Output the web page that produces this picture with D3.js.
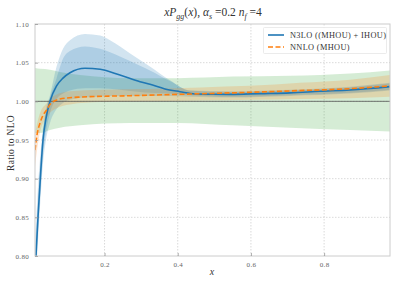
<!DOCTYPE html>
<html><head><meta charset="utf-8">
<script src="https://cdn.jsdelivr.net/npm/d3@7"></script>
<style>body{margin:0;background:#fff}svg{display:block}text{font-family:"Liberation Serif","DejaVu Serif",serif}</style>
</head><body><div id="chart"></div>
<script>
const xTicks = [0.2, 0.4, 0.6, 0.8];
const yTicks = [0.80, 0.85, 0.90, 0.95, 1.00, 1.05, 1.10];
const seriesNames = ["N3LO ((MHOU) + IHOU)", "NNLO (MHOU)"];

const n3loX = [0.01,0.0127,0.0182,0.0245,0.0319,0.040,0.051,0.069,0.0865,0.1056,0.1466,0.188,0.242,0.297,0.324,0.365,0.406,0.447,0.543,0.625,0.707,0.789,0.871,0.98];
const n3loY = [0.775,0.80,0.85,0.90,0.95,0.978,1.000,1.020,1.030,1.037,1.0427,1.0414,1.034,1.0254,1.022,1.016,1.0125,1.0095,1.009,1.010,1.011,1.013,1.0147,1.019];

const nnloX = [0.01,0.0146,0.0237,0.032,0.0419,0.051,0.078,0.133,0.270,0.4,0.55,0.707,0.871,0.98];
const nnloY = [0.937,0.954,0.972,0.982,0.989,0.996,1.003,1.0055,1.0073,1.009,1.011,1.0135,1.0164,1.020];

const outerX  = [0.01,0.0127,0.0182,0.0245,0.0319,0.040,0.051,0.069,0.0865,0.1056,0.1466,0.188,0.215,0.27,0.324,0.38,0.433,0.543,0.707,0.871,0.98];
const outerLo = [0.74,0.77,0.82,0.87,0.92,0.950,0.972,0.990,0.998,1.002,1.005,1.006,1.007,1.007,1.007,1.007,1.006,1.005,1.007,1.010,1.014];
const outerHi = [0.82,0.84,0.89,0.93,0.965,0.99,1.008,1.045,1.068,1.079,1.087,1.085,1.079,1.062,1.045,1.027,1.014,1.013,1.015,1.019,1.024];

const innerX  = [0.01,0.0127,0.0182,0.0245,0.0319,0.040,0.051,0.069,0.0865,0.1056,0.1466,0.188,0.242,0.297,0.324,0.38,0.433,0.543,0.707,0.871,0.98];
const innerLo = [0.755,0.785,0.835,0.88,0.93,0.96,0.985,1.003,1.010,1.014,1.017,1.017,1.015,1.012,1.011,1.010,1.008,1.006,1.008,1.011,1.015];
const innerHi = [0.80,0.82,0.87,0.92,0.96,0.985,1.005,1.03,1.055,1.065,1.071,1.068,1.058,1.046,1.040,1.026,1.014,1.012,1.014,1.018,1.023];

const orangeBandX  = [0.01,0.0237,0.0428,0.0647,0.1056,0.188,0.324,0.461,0.597,0.734,0.871,0.98];
const orangeBandLo = [0.915,0.960,0.980,0.990,0.996,0.999,1.000,1.001,1.002,1.003,1.004,1.006];
const orangeBandHi = [0.958,0.985,0.998,1.008,1.013,1.015,1.016,1.018,1.020,1.024,1.028,1.034];

const greenX  = [0.01,0.0237,0.051,0.078,0.133,0.27,0.4,0.55,0.707,0.871,0.98];
const greenLo = [0.959,0.959,0.963,0.966,0.969,0.972,0.972,0.969,0.966,0.963,0.961];
const greenHi = [1.043,1.042,1.041,1.038,1.034,1.030,1.030,1.032,1.033,1.036,1.040];

const W = 399, H = 285;
const L = 35, R = 390, T = 24, B = 256;
const x = d3.scaleLinear().domain([0.01, 0.98]).range([L, R]);
const y = d3.scaleLinear().domain([0.80, 1.10]).range([B, T]);

const svg = d3.select("#chart").append("svg").attr("width", W).attr("height", H);
svg.append("defs").append("clipPath").attr("id","clip")
  .append("rect").attr("x",L).attr("y",T).attr("width",R-L).attr("height",B-T);

// grid
const g = svg.append("g");
g.selectAll(".vg").data(xTicks).join("line")
  .attr("x1",d=>x(d)).attr("x2",d=>x(d)).attr("y1",T).attr("y2",B)
  .attr("stroke","#d0d0d0").attr("stroke-width",0.8).attr("stroke-dasharray","1.5,1.5");
g.selectAll(".hg").data(yTicks.filter(d=>d>0.8&&d<1.1)).join("line")
  .attr("x1",L).attr("x2",R).attr("y1",d=>y(d)).attr("y2",d=>y(d))
  .attr("stroke","#d0d0d0").attr("stroke-width",0.8).attr("stroke-dasharray","1.5,1.5");

const plot = svg.append("g").attr("clip-path","url(#clip)");
function band(xs, lo, hi, color, op) {
  const pts = xs.map((v,i)=>[v, lo[i], hi[i]]);
  plot.append("path").datum(pts)
    .attr("d", d3.area().x(d=>x(d[0])).y0(d=>y(d[1])).y1(d=>y(d[2])).curve(d3.curveMonotoneX))
    .attr("fill", color).attr("fill-opacity", op);
}
band(greenX, greenLo, greenHi, "#2ca02c", 0.2);
band(outerX, outerLo, outerHi, "#1f77b4", 0.2);
band(innerX, innerLo, innerHi, "#1f77b4", 0.2);
band(orangeBandX, orangeBandLo, orangeBandHi, "#ff7f0e", 0.2);

// reference line at 1
plot.append("line").attr("x1",L).attr("x2",R).attr("y1",y(1)).attr("y2",y(1))
  .attr("stroke","#555").attr("stroke-width",0.8);

const line = d3.line().x(d=>x(d[0])).y(d=>y(d[1])).curve(d3.curveMonotoneX);
plot.append("path").datum(n3loX.map((v,i)=>[v,n3loY[i]]))
  .attr("d", line).attr("fill","none").attr("stroke","#1f77b4").attr("stroke-width",1.6);
plot.append("path").datum(nnloX.map((v,i)=>[v,nnloY[i]]))
  .attr("d", line).attr("fill","none").attr("stroke","#ff7f0e").attr("stroke-width",1.6)
  .attr("stroke-dasharray","5,2.5");

// spines
svg.append("rect").attr("x",L).attr("y",T).attr("width",R-L).attr("height",B-T)
  .attr("fill","none").attr("stroke","#cccccc").attr("stroke-width",1);

// axes
const xa = svg.append("g").attr("transform",`translate(0,${B})`)
  .call(d3.axisBottom(x).tickValues(xTicks).tickFormat(d3.format(".1f")).tickSizeInner(-3).tickSizeOuter(0).tickPadding(6));
const ya = svg.append("g").attr("transform",`translate(${L},0)`)
  .call(d3.axisLeft(y).tickValues(yTicks).tickFormat(d3.format(".2f")).tickSizeInner(-3).tickSizeOuter(0).tickPadding(6));
[xa, ya].forEach(a=>{
  a.select(".domain").remove();
  a.selectAll(".tick line").attr("stroke","#999").attr("stroke-width",0.8);
  a.selectAll(".tick text").attr("fill","#666").attr("font-size",7).attr("letter-spacing",0.3)
    .attr("font-family",'"Liberation Serif","DejaVu Serif",serif');
});

// title
const t = svg.append("text").attr("x",213).attr("y",16).attr("text-anchor","middle")
  .attr("font-size",11.5).attr("fill","#333");
t.append("tspan").attr("font-style","italic").text("xP");
t.append("tspan").attr("font-style","italic").attr("font-size",8).attr("dy",3).text("gg");
t.append("tspan").attr("dy",-3).text("(");
t.append("tspan").attr("font-style","italic").text("x");
t.append("tspan").text("),  ");
t.append("tspan").attr("font-style","italic").text("α");
t.append("tspan").attr("font-style","italic").attr("font-size",8).attr("dy",3).text("s");
t.append("tspan").attr("dy",-3).text(" =0.2 ");
t.append("tspan").attr("font-style","italic").text("n");
t.append("tspan").attr("font-style","italic").attr("font-size",8).attr("dy",3).text("f");
t.append("tspan").attr("dy",-3).text(" =4");

// axis labels
svg.append("text").attr("x",212).attr("y",275).attr("text-anchor","middle")
  .attr("font-size",10).attr("font-style","italic").attr("fill","#333").text("x");
svg.append("text").attr("transform","translate(14,143) rotate(-90)").attr("text-anchor","middle")
  .attr("font-size",9.5).attr("letter-spacing",0.3).attr("fill","#333").text("Ratio to NLO");

// legend
const lg = svg.append("g");
lg.append("rect").attr("x",263.5).attr("y",27.5).attr("width",123).attr("height",26)
  .attr("fill","#fff").attr("fill-opacity",0.85).attr("stroke","#e6e6e6").attr("stroke-width",0.8).attr("rx",1);
const colors = ["#1f77b4","#ff7f0e"];
seriesNames.forEach((n,i)=>{
  const yy = 35 + i*12;
  lg.append("line").attr("x1",268).attr("x2",284).attr("y1",yy).attr("y2",yy)
    .attr("stroke",colors[i]).attr("stroke-width",1.6)
    .attr("stroke-dasharray", i===1 ? "5,2.5" : null);
  lg.append("text").attr("x",290).attr("y",yy+3).attr("font-size",8.3).attr("letter-spacing",0.35)
    .attr("fill","#333").text(n);
});
</script></body></html>
